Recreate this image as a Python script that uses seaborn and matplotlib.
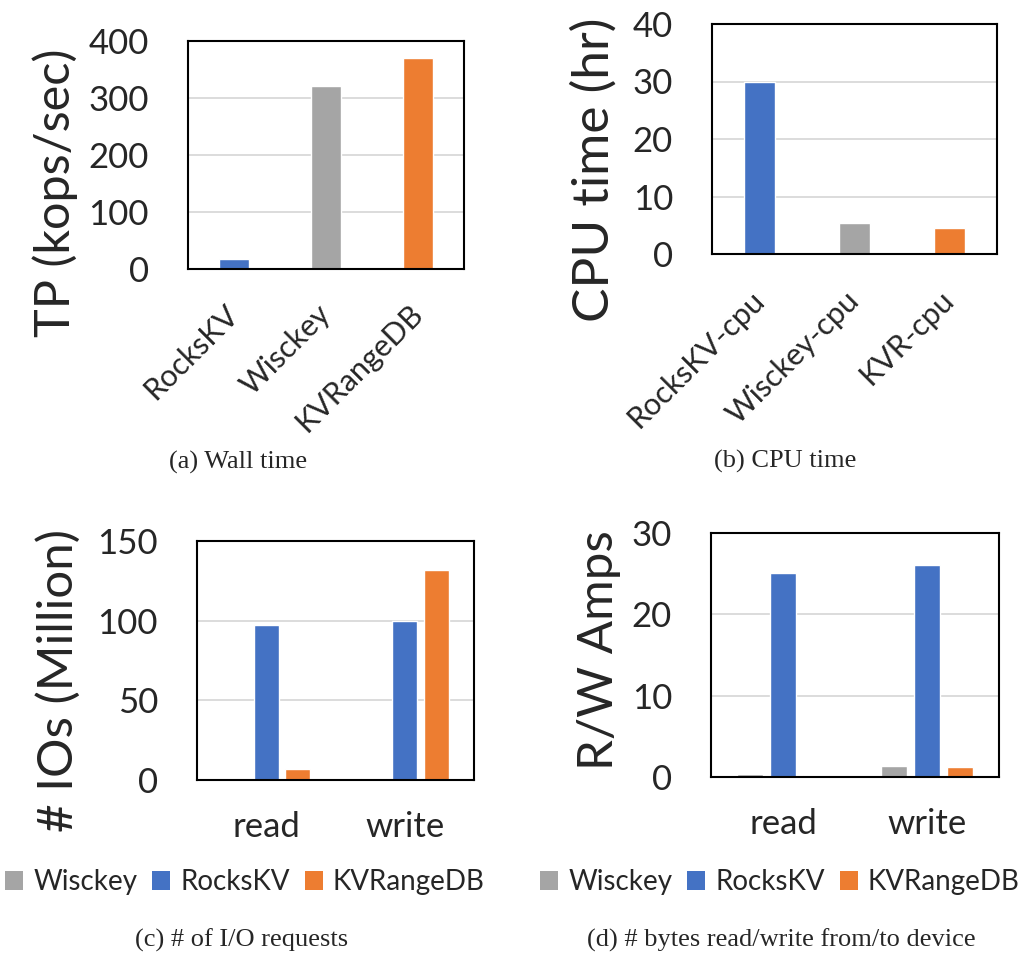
import matplotlib
matplotlib.use("Agg")
import matplotlib.pyplot as plt
from matplotlib.patches import Patch
import seaborn as sns
import pandas as pd

# ---- data -------------------------------------------------------------
wall_systems = ["RocksKV", "Wisckey", "KVRangeDB"]
wall_tp = [17, 321, 370]

cpu_labels = ["RocksKV-cpu", "Wisckey-cpu", "KVR-cpu"]
cpu_hours = [30, 5.4, 4.5]

ops = ["read", "write"]
legend_systems = ["Wisckey", "RocksKV", "KVRangeDB"]

io_wisckey = [0.5, 1.2]
io_rocks = [97.2, 99.7]
io_kvr = [6.7, 131.5]

amp_wisckey = [0.33, 1.36]
amp_rocks = [25.1, 26.1]
amp_kvr = [0.2, 1.2]

# ---- style ------------------------------------------------------------
BLUE = "#4472C4"
GRAY = "#A5A5A5"
ORANGE = "#ED7D31"
GRID = "#D9D9D9"

sns.set_style("white")
plt.rcParams["font.family"] = ["Lato", "DejaVu Sans"]

TICK_FS = 25
XTICK_FS = 22
LEGEND_FS = 20
CAPTION_FS = 19

fig = plt.figure(figsize=(10.23, 9.57), dpi=100)
W, H = 1023, 957


def add_axes(x0, y0, x1, y1):
    return fig.add_axes([x0 / W, 1 - y1 / H, (x1 - x0) / W, (y1 - y0) / H])


def style_axes(ax, ymax, step, ylabel, label_fs, lab_x, lab_y):
    ax.set_ylim(0, ymax)
    ax.set_yticks(range(0, ymax + 1, step))
    ax.yaxis.grid(True, color=GRID, linewidth=1.3)
    ax.set_axisbelow(True)
    for sp in ax.spines.values():
        sp.set_visible(True)
        sp.set_color("black")
        sp.set_linewidth(1.5)
    ax.tick_params(axis="y", length=0, pad=28, labelsize=TICK_FS)
    ax.tick_params(axis="x", length=0)
    ax.set_xlabel("")
    ax.set_ylabel(ylabel, fontsize=label_fs, va="center")
    ax.yaxis.set_label_coords(lab_x, lab_y)


def rotate_xticks(ax, pad):
    ax.tick_params(axis="x", pad=pad)
    for lab in ax.get_xticklabels():
        lab.set_rotation(45)
        lab.set_ha("right")
        lab.set_va("center")
        lab.set_rotation_mode("anchor")
        lab.set_fontsize(XTICK_FS)


# ---- (a) wall time ----------------------------------------------------
ax_a = add_axes(188, 41, 464, 269)
sns.barplot(x=wall_systems, y=wall_tp, hue=wall_systems,
            palette=[BLUE, GRAY, ORANGE], width=0.33, saturation=1,
            legend=False, ax=ax_a)
ax_a.set_xlim(-0.5, 2.5)
style_axes(ax_a, 400, 100, "TP (kops/sec)", 35, -0.48, 0.333)
rotate_xticks(ax_a, 29)

# ---- (b) CPU time -----------------------------------------------------
ax_b = add_axes(712, 24, 997, 254)
sns.barplot(x=cpu_labels, y=cpu_hours, hue=cpu_labels,
            palette=[BLUE, GRAY, ORANGE], width=0.33, saturation=1,
            legend=False, ax=ax_b)
ax_b.set_xlim(-0.5, 2.5)
style_axes(ax_b, 40, 10, "CPU time (hr)", 37, -0.414, 0.365)
rotate_xticks(ax_b, 30)

# ---- (c) I/O requests -------------------------------------------------
io_df = pd.DataFrame({
    "op": ops * 3,
    "system": [s for s in legend_systems for _ in ops],
    "value": io_wisckey + io_rocks + io_kvr,
})
ax_c = add_axes(197, 541, 474, 780)
sns.barplot(data=io_df, x="op", y="value", hue="system",
            hue_order=legend_systems, palette=[GRAY, BLUE, ORANGE],
            width=0.68, gap=0.2, saturation=1, legend=False, ax=ax_c)
ax_c.set_xlim(-0.5, 1.5)
style_axes(ax_c, 150, 50, "# IOs (Million)", 35.5, -0.50, 0.418)
ax_c.tick_params(axis="x", labelsize=TICK_FS, pad=22)

# ---- (d) read/write amplification ---------------------------------------
amp_df = pd.DataFrame({
    "op": ops * 3,
    "system": [s for s in legend_systems for _ in ops],
    "value": amp_wisckey + amp_rocks + amp_kvr,
})
ax_d = add_axes(711, 533, 999, 777)
sns.barplot(data=amp_df, x="op", y="value", hue="system",
            hue_order=legend_systems, palette=[GRAY, BLUE, ORANGE],
            width=0.68, gap=0.2, saturation=1, legend=False, ax=ax_d)
ax_d.set_xlim(-0.5, 1.5)
style_axes(ax_d, 30, 10, "R/W Amps", 35.5, -0.39, 0.52)
ax_d.tick_params(axis="x", labelsize=TICK_FS, pad=22)

# ---- legends ----------------------------------------------------------
handles = [Patch(facecolor=c, edgecolor="none") for c in (GRAY, BLUE, ORANGE)]
for cx in (245, 780):
    fig.legend(handles, legend_systems, loc="center",
               bbox_to_anchor=(cx / W, 1 - 882 / H), ncol=3, frameon=False,
               fontsize=LEGEND_FS, handlelength=0.65, handleheight=0.65,
               handletextpad=0.35, columnspacing=0.55, borderpad=0.1)

# ---- captions ---------------------------------------------------------
captions = [
    (238, 462, "(a) Wall time"),
    (785, 461, "(b) CPU time"),
    (242, 940, "(c) # of I/O requests"),
    (781, 940, "(d) # bytes read/write from/to device"),
]
for cx, cy, text in captions:
    fig.text(cx / W, 1 - cy / H, text, ha="center", va="center",
             family="Liberation Serif", fontsize=CAPTION_FS)

fig.savefig("out.png", dpi=100)
